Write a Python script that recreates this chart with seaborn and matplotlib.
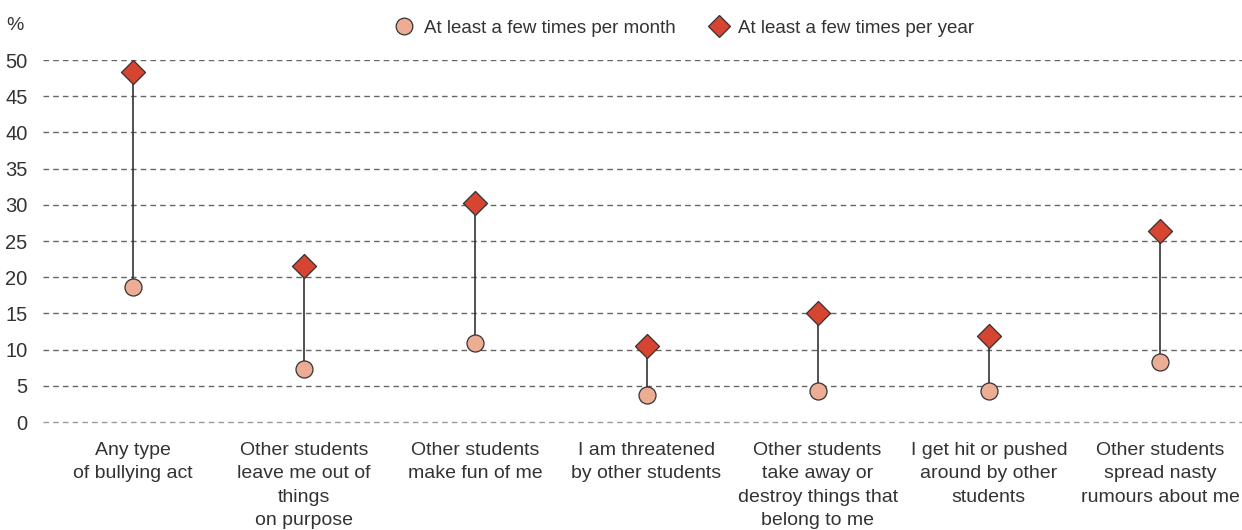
import matplotlib
matplotlib.use("Agg")
import matplotlib.pyplot as plt
import seaborn as sns
import pandas as pd
from matplotlib.lines import Line2D

categories = [
    "Any type\nof bullying act",
    "Other students\nleave me out of\nthings\non purpose",
    "Other students\nmake fun of me",
    "I am threatened\nby other students",
    "Other students\ntake away or\ndestroy things that\nbelong to me",
    "I get hit or pushed\naround by other\nstudents",
    "Other students\nspread nasty\nrumours about me",
]
per_month = [18.6, 7.3, 10.9, 3.7, 4.3, 4.3, 8.3]
per_year = [48.3, 21.5, 30.2, 10.5, 15.1, 11.9, 26.4]
y_ticks = [0, 5, 10, 15, 20, 25, 30, 35, 40, 45, 50]
labels = ["At least a few times per month", "At least a few times per year"]

month_color = "#EDAD95"
year_color = "#D64531"
edge = "#333333"
text_color = "#333333"

sns.set_style("white")
plt.rcParams['font.family'] = ['Liberation Sans', 'DejaVu Sans']

df = pd.DataFrame({"pos": range(len(categories)), "month": per_month, "year": per_year})

# y = 0 sits at pixel 422, y = 50 at pixel 60; leave a little room below zero
unit = (422 - 60) / 50
bottom_px = 422 + 0.4 * unit
fig = plt.figure(figsize=(12.42, 5.30), dpi=100)
ax = fig.add_axes([43 / 1242, 1 - bottom_px / 530, 1 - 43 / 1242, (bottom_px - 60) / 530])

for t in y_ticks:
    ax.axhline(t, color="#666666" if t else "#999999", lw=1, ls=(0, (4, 3)), zorder=0)

ax.vlines(df["pos"], df["month"], df["year"], color="#333333", lw=1.2, zorder=2)
sns.scatterplot(data=df, x="pos", y="month", marker="o", s=150, color=month_color,
                edgecolor=edge, linewidth=0.9, zorder=3, ax=ax, clip_on=False)
sns.scatterplot(data=df, x="pos", y="year", marker="D", s=150, color=year_color,
                edgecolor=edge, linewidth=0.9, zorder=3, ax=ax, clip_on=False)

ax.set_xlim(-0.526, 6.479)
ax.set_ylim(-0.4, 50)
ax.set_yticks(y_ticks)
ax.set_yticklabels([str(t) for t in y_ticks], fontsize=14.5, color=text_color)
ax.set_xticks(range(len(categories)))
ax.set_xticklabels(categories, fontsize=14, color=text_color, linespacing=1.5, va="top")
ax.tick_params(axis="both", length=0)
ax.tick_params(axis="y", pad=11)
ax.tick_params(axis="x", pad=12)
ax.set_xlabel("")
ax.set_ylabel("")
for s in ax.spines.values():
    s.set_visible(False)

fig.text(15 / 1242, 1 - 26 / 530, "%", fontsize=14, color=text_color, ha="center", va="center")

handles = [
    Line2D([], [], marker="o", ls="", markersize=12, markerfacecolor=month_color, markeredgecolor=edge, markeredgewidth=0.9),
    Line2D([], [], marker="D", ls="", markersize=11, markerfacecolor=year_color, markeredgecolor=edge, markeredgewidth=0.9),
]
fig.legend(handles, labels, loc="center", bbox_to_anchor=(680 / 1242, 1 - 28 / 530), ncol=2,
           frameon=False, fontsize=13.5, handletextpad=0.05, columnspacing=1.3, labelcolor=text_color)

fig.savefig("out.png", dpi=100)
